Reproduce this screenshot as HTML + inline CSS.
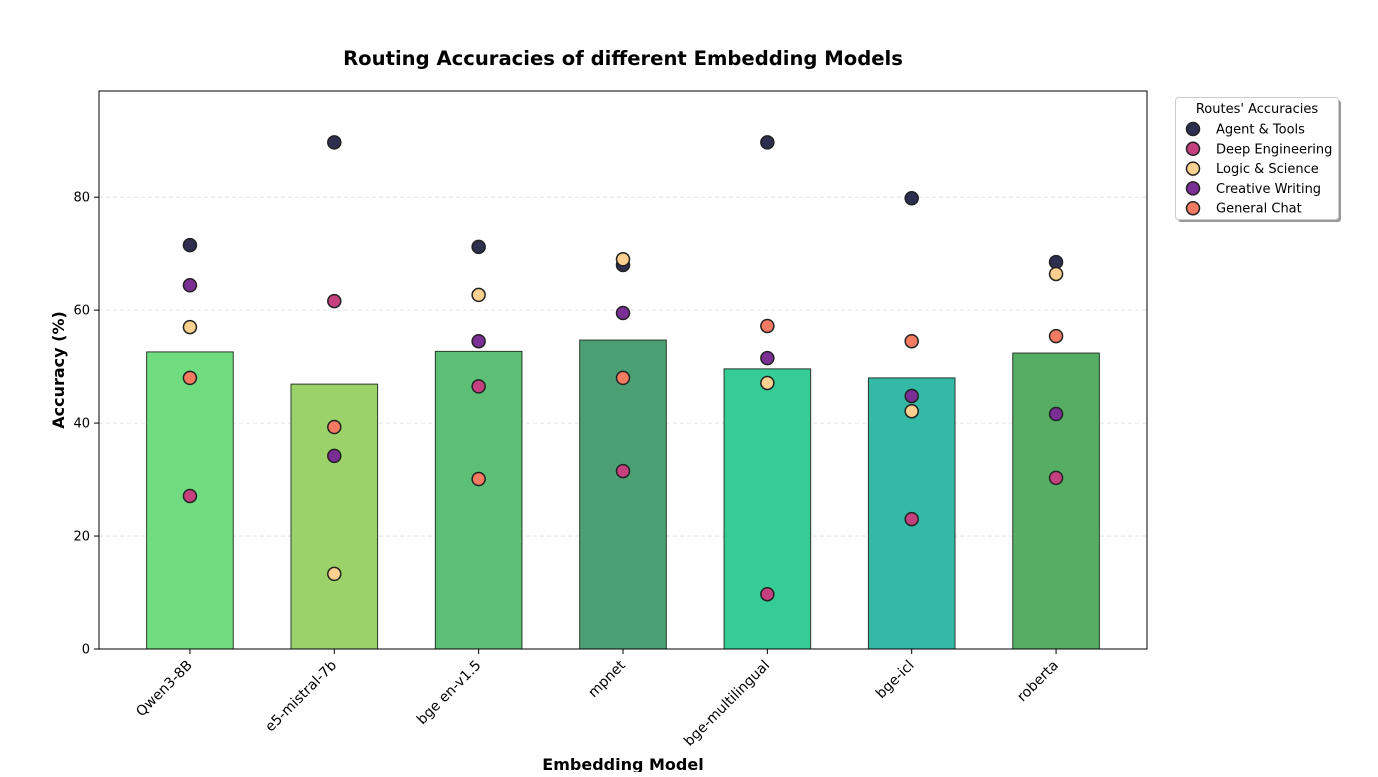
<!DOCTYPE html>
<html><head><meta charset="utf-8"><style>
body{margin:0;background:#fff;width:1378px;height:772px;overflow:hidden}
svg text{font-family:"DejaVu Sans","Liberation Sans",sans-serif}
</style></head><body>
<svg id="chart" width="1378" height="772" xmlns="http://www.w3.org/2000/svg">
<text x="623" y="65" text-anchor="middle" font-size="19.6" font-weight="bold">Routing Accuracies of different Embedding Models</text>
<g id="grid"></g><g id="bars"></g><g id="points"></g><g id="axes"></g>
<text transform="translate(64,370) rotate(-90)" text-anchor="middle" font-size="16" font-weight="bold">Accuracy (%)</text>
<text x="623" y="770" text-anchor="middle" font-size="16" font-weight="bold">Embedding Model</text>
<g id="legend"></g>
</svg>
<script>
const categories=["Qwen3-8B","e5-mistral-7b","bge en-v1.5","mpnet","bge-multilingual","bge-icl","roberta"];
const barValues=[52.6,46.9,52.7,54.7,49.6,48.0,52.4];
const barColors=["#6fdc80","#9bd36a","#5dbe75","#4aa072","#36cc96","#33b9a6","#55ae63"];
const routes=["Agent & Tools","Deep Engineering","Logic & Science","Creative Writing","General Chat"];
const routeColors=["#2e2e50","#c4407e","#fcd08e","#7a2f95","#f47a62"];
const agentVals=[71.5,89.7,71.2,68.0,89.7,79.8,68.5];
const deepVals=[27.1,61.6,46.5,31.5,9.7,23.0,30.3];
const logicVals=[57.0,13.3,62.7,69.0,47.1,42.1,66.4];
const creativeVals=[64.4,34.2,54.5,59.5,51.5,44.8,41.6];
const generalVals=[48.0,39.3,30.1,48.0,57.2,54.5,55.4];
const yTicks=[0,20,40,60,80];
const series=[agentVals,deepVals,logicVals,creativeVals,generalVals];
const NS="http://www.w3.org/2000/svg";
const L=99,R=1147,T=91,B=649,xmin=-0.63,xmax=6.63,ymax=98.8;
const xs=v=>L+(v-xmin)/(xmax-xmin)*(R-L);
const ys=v=>B-v/ymax*(B-T);
function mk(tag,attrs,parent){const e=document.createElementNS(NS,tag);for(const k in attrs)e.setAttribute(k,attrs[k]);document.getElementById(parent).appendChild(e);return e;}
yTicks.forEach((t,i)=>{
 if(t>0){const g=mk("line",{x1:L,x2:R,y1:ys(t),y2:ys(t),stroke:"#ddd","stroke-dasharray":"4,3","stroke-width":0.8},"grid");
 
 }
 const tk=mk("line",{x1:L-5,x2:L,y1:ys(t),y2:ys(t),stroke:"#000"},"axes");
 
 
 const tx=mk("text",{x:L-9,y:ys(t)+4.5,"text-anchor":"end","font-size":13},"axes");
 tx.textContent=t;
 
 
});
categories.forEach((c,i)=>{
 const w=(xs(0.3)-xs(-0.3));
 const b=mk("rect",{x:xs(i)-w/2,y:ys(barValues[i]),width:w,height:B-ys(barValues[i]),fill:barColors[i],stroke:"#2a3a2a","stroke-width":1},"bars");
 
 
 const tk=mk("line",{x1:xs(i),x2:xs(i),y1:B,y2:B+5,stroke:"#000"},"axes");
 
 
 const tx=mk("text",{transform:`translate(${xs(i)+3},${B+17}) rotate(-45)`,"text-anchor":"end","font-size":14},"axes");
 tx.textContent=c;
 
 
});
series.forEach((s,k)=>{s.forEach((v,i)=>{
 const p=mk("circle",{cx:xs(i),cy:ys(v),r:6.5,fill:routeColors[k],stroke:"#222","stroke-width":1.5},"points");
 
 
});});
const fr=mk("rect",{x:L,y:T,width:R-L,height:B-T,fill:"none",stroke:"#000","stroke-width":1},"axes");


const sh=mk("rect",{x:1178,y:100,width:163,height:122,rx:3,fill:"#999"},"legend");


const lb=mk("rect",{x:1175.5,y:97.5,width:163,height:122,rx:3,fill:"#fff",stroke:"#ccc"},"legend");


const lt=mk("text",{x:1257,y:113,"text-anchor":"middle","font-size":13},"legend");
lt.textContent="Routes' Accuracies";


routes.forEach((r,k)=>{
 const y=129+k*19.8;
 const c=mk("circle",{cx:1193,cy:y,r:6.5,fill:routeColors[k],stroke:"#222","stroke-width":1.5},"legend");
 
 
 const t=mk("text",{x:1216,y:y+4.5,"font-size":13},"legend");
 t.textContent=r;
 
 
});
</script>
</body></html>
